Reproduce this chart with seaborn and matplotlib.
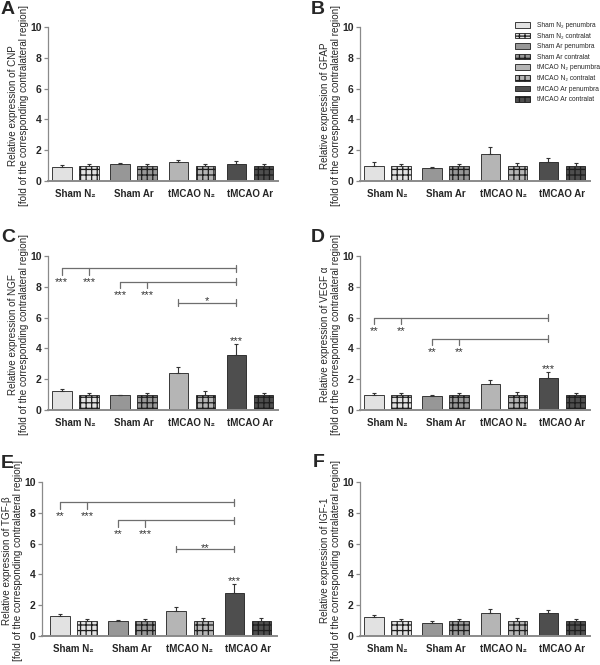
import numpy as np
import pandas as pd
import matplotlib
matplotlib.use("Agg")
import matplotlib.pyplot as plt
import seaborn as sns
from matplotlib.patches import Patch

# categories
groups = ["Sham N₂", "Sham Ar", "tMCAO N₂", "tMCAO Ar"]
regions = ["penumbra", "contralat"]
genes = ["CNP", "GFAP", "NGF", "VEGF α", "TGF-β", "IGF-1"]
letters = ["A", "B", "C", "D", "E", "F"]
legend_labels = ["Sham N₂ penumbra", "Sham N₂ contralat", "Sham Ar penumbra", "Sham Ar contralat",
                 "tMCAO N₂ penumbra", "tMCAO N₂ contralat", "tMCAO Ar penumbra", "tMCAO Ar contralat"]

# mean and SEM, penumbra and contralateral, per group
cnp_pen = [0.88, 1.08, 1.21, 1.08]
cnp_pen_sem = [0.13, 0.11, 0.17, 0.19]
cnp_con = [1.0, 1.0, 1.0, 1.0]
cnp_con_sem = [0.12, 0.1, 0.11, 0.12]

gfap_pen = [1.0, 0.87, 1.76, 1.22]
gfap_pen_sem = [0.25, 0.06, 0.44, 0.26]
gfap_con = [1.0, 1.0, 1.0, 1.0]
gfap_con_sem = [0.11, 0.12, 0.2, 0.15]

ngf_pen = [1.26, 0.96, 2.38, 3.57]
ngf_pen_sem = [0.12, 0.04, 0.39, 0.71]
ngf_con = [1.0, 1.0, 1.0, 1.0]
ngf_con_sem = [0.1, 0.1, 0.22, 0.12]

vegf_pen = [1.0, 0.92, 1.68, 2.08]
vegf_pen_sem = [0.12, 0.07, 0.29, 0.38]
vegf_con = [1.0, 1.0, 1.0, 1.0]
vegf_con_sem = [0.1, 0.1, 0.15, 0.12]

tgf_pen = [1.3, 0.96, 1.62, 2.78]
tgf_pen_sem = [0.14, 0.08, 0.26, 0.58]
tgf_con = [1.0, 1.0, 1.0, 1.0]
tgf_con_sem = [0.1, 0.1, 0.15, 0.15]

igf_pen = [1.26, 0.87, 1.5, 1.47]
igf_pen_sem = [0.12, 0.08, 0.24, 0.2]
igf_con = [1.0, 1.0, 1.0, 1.0]
igf_con_sem = [0.1, 0.12, 0.15, 0.12]

# significance: (left bar, middle bar, right bar, level, left stars, middle stars)
# bars numbered 0..7 = Sham N2 pen, Sham N2 con, Sham Ar pen, ...
ngf_brackets = [(0, 1, 6, 9.2, "***", "***"), (2, 3, 6, 8.33, "***", "***")]
ngf_pairs = [(4, 6, 6.97, "*")]
vegf_brackets = [(0, 1, 6, 6.0, "**", "**"), (2, 3, 6, 4.62, "**", "**")]
tgf_brackets = [(0, 1, 6, 8.68, "**", "***"), (2, 3, 6, 7.51, "**", "***")]
tgf_pairs = [(4, 6, 5.65, "**")]

group_colors = ["#e2e2e2", "#979797", "#b5b5b5", "#4e4e4e"]

sns.set_style("ticks")
plt.rcParams["font.family"] = ["Liberation Sans", "DejaVu Sans"]
plt.rcParams["hatch.linewidth"] = 0.9

W, H = 600, 665
fig = plt.figure(figsize=(W / 100, H / 100), dpi=100)

axis_grey = "#8a8a8a"
line_grey = "#6e6e6e"
star_kw = dict(ha="center", fontsize=8, color="#333333")


def draw_panel(rect, xlim, pen, pen_sem, con, con_sem, gene, letter, letter_xy,
               brackets=(), pairs=(), top_star=None):
    ax = fig.add_axes(rect)
    df = pd.DataFrame({
        "group": groups * 2,
        "region": [regions[0]] * 4 + [regions[1]] * 4,
        "value": list(pen) + list(con),
    })
    sns.barplot(data=df, x="group", y="value", hue="region", order=groups,
                hue_order=regions, width=0.93, gap=0.28, errorbar=None,
                legend=False, ax=ax, linewidth=0.6, edgecolor="#2a2a2a")
    bars = sorted(ax.patches, key=lambda p: p.get_x())
    centers = []
    for k, bar in enumerate(bars):
        g, r = divmod(k, 2)
        bar.set_facecolor(group_colors[g])
        bar.set_edgecolor("#1e1e1e")
        if r == 1:
            bar.set_hatch("+++")
        centers.append(bar.get_x() + bar.get_width() / 2)
    centers = np.array(centers)

    means = np.ravel(np.column_stack([pen, con]))
    sems = np.ravel(np.column_stack([pen_sem, con_sem]))
    ax.errorbar(centers, means, yerr=[np.zeros_like(sems), sems], fmt="none",
                ecolor="#333333", elinewidth=0.8, capsize=1.2, capthick=0.8)

    for left, mid, right, lev, s_left, s_mid in brackets:
        ax.plot([centers[left], centers[right]], [lev, lev], color=line_grey, lw=0.9)
        ax.plot([centers[left]] * 2, [lev, lev - 0.42], color=line_grey, lw=0.9)
        ax.plot([centers[mid]] * 2, [lev, lev - 0.42], color=line_grey, lw=0.9)
        ax.plot([centers[right]] * 2, [lev - 0.22, lev + 0.22], color=line_grey, lw=0.9)
        ax.text(centers[left], lev - 0.55, s_left, va="top", **star_kw)
        ax.text(centers[mid], lev - 0.55, s_mid, va="top", **star_kw)
    for left, right, lev, s in pairs:
        ax.plot([centers[left], centers[right]], [lev, lev], color=line_grey, lw=0.9)
        for c in (left, right):
            ax.plot([centers[c]] * 2, [lev - 0.22, lev + 0.22], color=line_grey, lw=0.9)
        ax.text((centers[left] + centers[right]) / 2, lev - 0.25, s, va="bottom", **star_kw)
    if top_star:
        ax.text(centers[6], means[6] + sems[6] - 0.1, top_star, va="bottom", **star_kw)

    ax.set_xlim(*xlim)
    ax.set_ylim(0, 10)
    ax.set_yticks(np.arange(0, 11, 2))
    ax.set_xlabel("")
    ax.set_ylabel(f"Relative expression of {gene}\n[fold of the corresponding contralateral region]",
                  fontsize=7.1, linespacing=1.1)
    ax.yaxis.set_label_coords(-19 / (rect[2] * W), 0.49)
    sns.despine(ax=ax)
    ax.spines["left"].set_color(axis_grey)
    ax.spines["left"].set_linewidth(0.9)
    ax.spines["bottom"].set_color(axis_grey)
    ax.spines["bottom"].set_linewidth(1.4)
    ax.tick_params(axis="y", length=3, width=0.9, color=axis_grey, pad=1.5)
    ax.tick_params(axis="x", length=0, pad=6)
    for t in ax.get_yticklabels():
        t.set_fontweight("bold")
        t.set_fontsize(7.5)
    for t in ax.get_xticklabels():
        t.set_fontweight("bold")
        t.set_fontsize(7)
    fig.text(letter_xy[0] / W, 1 - letter_xy[1] / H, letter, fontsize=14,
             fontweight="bold", ha="left", va="top")
    return ax


xl = (-0.47, 3.48)
draw_panel([0.08, 0.7278, 0.3833, 0.2316], xl, cnp_pen, cnp_pen_sem, cnp_con, cnp_con_sem,
           genes[0], letters[0], (1, 1.5))
draw_panel([0.60, 0.7278, 0.3833, 0.2316], xl, gfap_pen, gfap_pen_sem, gfap_con, gfap_con_sem,
           genes[1], letters[1], (311, 1.5))
draw_panel([0.08, 0.3835, 0.3833, 0.2316], xl, ngf_pen, ngf_pen_sem, ngf_con, ngf_con_sem,
           genes[2], letters[2], (1, 228.5), ngf_brackets, ngf_pairs, "***")
draw_panel([0.60, 0.3835, 0.3833, 0.2316], xl, vegf_pen, vegf_pen_sem, vegf_con, vegf_con_sem,
           genes[3], letters[3], (311, 229.5), vegf_brackets, (), "***")
draw_panel([0.07, 0.0436, 0.3917, 0.2316], (-0.54, 3.5), tgf_pen, tgf_pen_sem, tgf_con, tgf_con_sem,
           genes[4], letters[4], (1, 454.5), tgf_brackets, tgf_pairs, "***")
draw_panel([0.60, 0.0436, 0.3833, 0.2316], xl, igf_pen, igf_pen_sem, igf_con, igf_con_sem,
           genes[5], letters[5], (313, 454))

handles = []
for k, lab in enumerate(legend_labels):
    g, r = divmod(k, 2)
    handles.append(Patch(facecolor=group_colors[g], edgecolor="#1e1e1e", linewidth=0.6,
                         hatch="+++" if r else None, label=lab))
fig.legend(handles=handles, loc="upper left", bbox_to_anchor=(515 / W, 1 - 22 / H), frameon=False,
           fontsize=4.8, handlelength=2.25, handleheight=0.9, handletextpad=1.05,
           labelspacing=0.53, borderpad=0, borderaxespad=0)

fig.savefig("out.png", dpi=100)
